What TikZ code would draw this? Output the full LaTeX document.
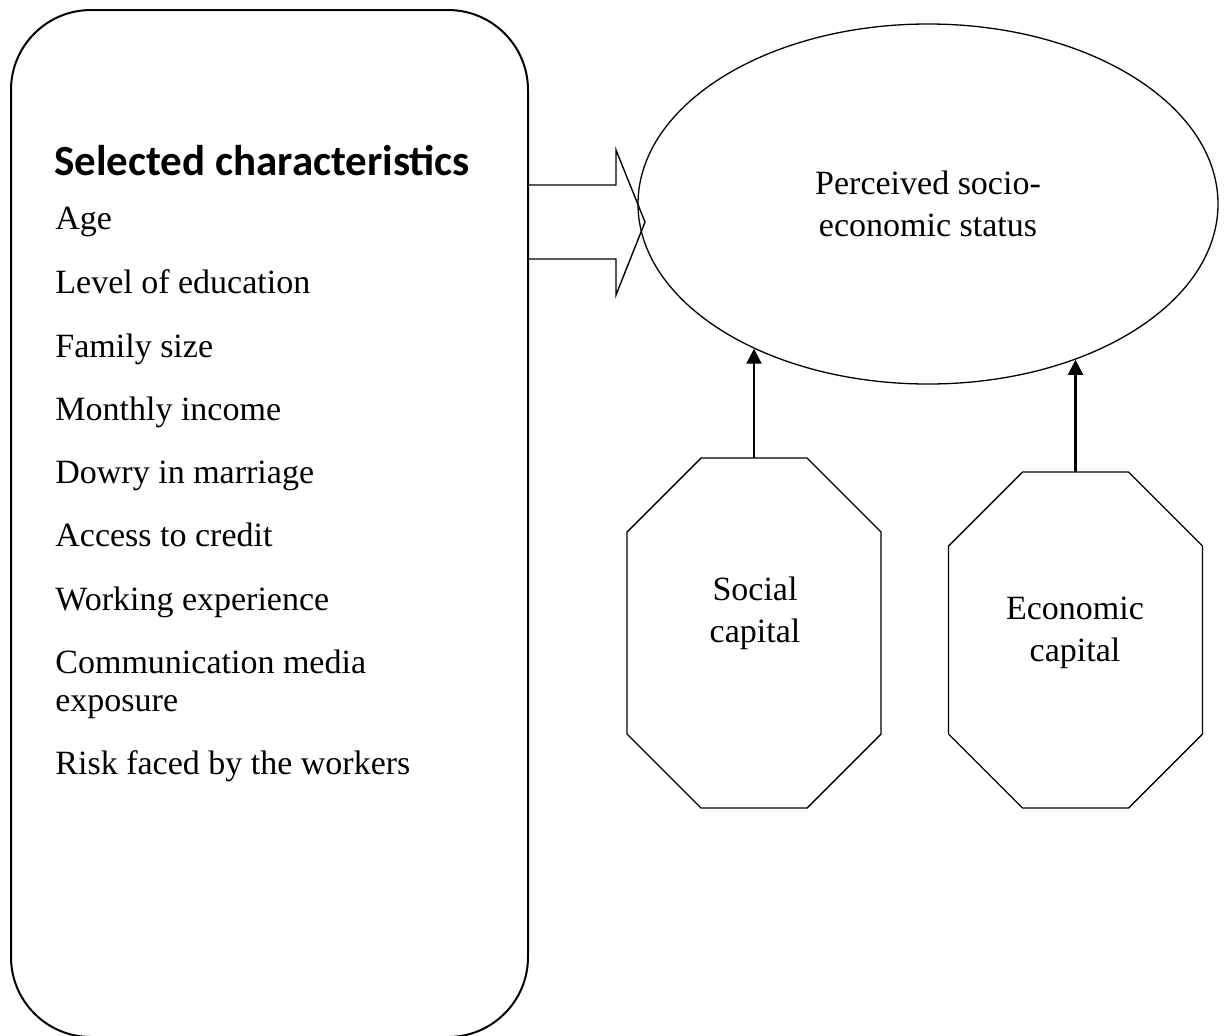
\documentclass[tikz,border=0pt]{standalone}
\usepackage{fontspec}
\setmainfont{Liberation Serif}
\newfontfamily\headfont{Carlito}
\usetikzlibrary{arrows.meta,shapes.geometric,positioning}

\begin{document}
\begin{tikzpicture}[x=0.5pt,y=-0.5pt,
  txt/.style={font=\fontsize{17}{21}\selectfont,align=center,inner sep=0pt},
  item/.style={font=\fontsize{17}{19}\selectfont,anchor=base west,inner sep=0pt},
  octa/.style={minimum width=127pt,minimum height=#1,inner sep=0pt,outer sep=0pt},
  up/.style={-{Triangle[length=7.5pt,width=7.5pt]},line width=1.1pt}]
\useasboundingbox (0,0) rectangle (1227,1035);
% left box with the list of characteristics
\node[draw,line width=1pt,rounded corners=40pt,minimum width=258.5pt,minimum height=513.5pt,
  inner sep=0pt,outer sep=0pt] (sel) at (269.5,523.5) {};
\node[anchor=base west,inner sep=0pt,font=\headfont\bfseries\fontsize{21.5}{26}\selectfont] (head) at (54,175) {Selected characteristics};
\foreach \y/\t [count=\i] in {229/Age,293/Level of education,357/Family size,420/Monthly income,
  483/Dowry in marriage,546/Access to credit,610/Working experience,
  673/{\parbox[t]{200pt}{Communication media\\exposure}},774/Risk faced by the workers}
  \node[item] (it\i) at (55,\y) {\t};
% block arrow into the ellipse
\draw[line width=0.7pt] (528,185) -- (616,185) -- (616,150) -- (645,222) -- (616,295) -- (616,259) -- (528,259);
\node[draw,ellipse,line width=0.65pt,minimum width=290pt,minimum height=180pt,outer sep=0pt] (stat) at (928,204) {};
\node[txt] at (928,204) {Perceived socio-\\economic status};
% capital, drawn as chamfered boxes
\node[octa=175pt] (soc) at (754,633) {};
\node[txt] at (755,613) {Social\\capital};
\node[octa=168pt] (eco) at (1075.5,640) {};
\node[txt] at (1075,633) {Economic\\capital};
\foreach \n in {soc,eco}
  \draw[line width=0.7pt] ([xshift=37pt]\n.north west) -- ([xshift=-37pt]\n.north east)
    -- ([yshift=-37pt]\n.north east) -- ([yshift=37pt]\n.south east)
    -- ([xshift=-37pt]\n.south east) -- ([xshift=37pt]\n.south west)
    -- ([yshift=37pt]\n.south west) -- ([yshift=-37pt]\n.north west) -- cycle;
\draw[up] (soc.north) -- (soc.north |- stat.220.7);
\draw[up] (eco.north) -- (eco.north |- stat.313.1);
\end{tikzpicture}
\end{document}
